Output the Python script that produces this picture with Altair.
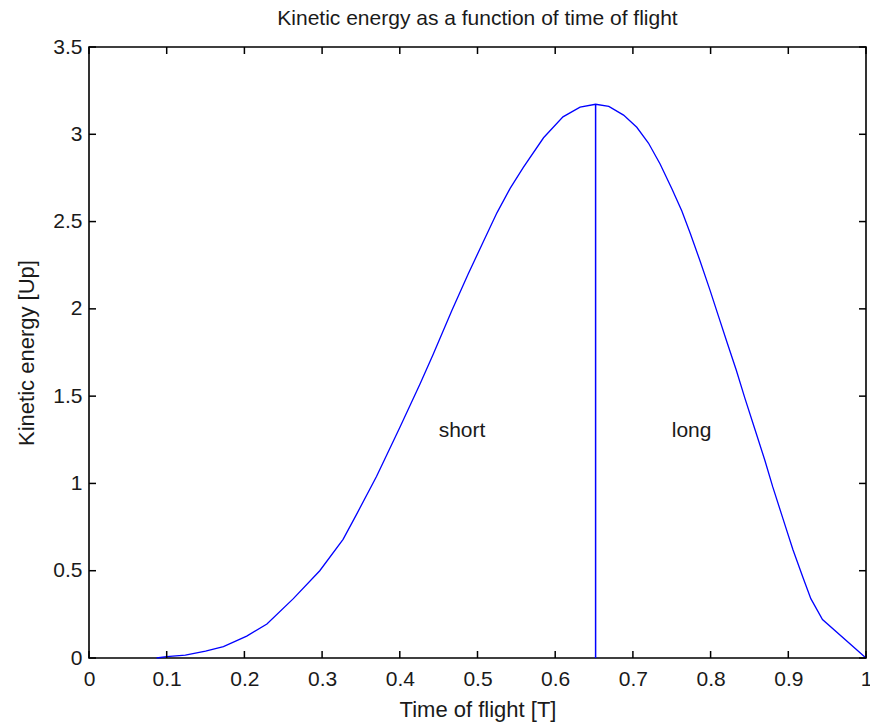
import altair as alt
import pandas as pd

# curve values
t_vals = [0.087, 0.10, 0.124, 0.15, 0.173, 0.203, 0.229, 0.263, 0.297, 0.327, 0.344, 0.370,
          0.400, 0.426, 0.443, 0.467, 0.488, 0.507, 0.525, 0.542, 0.559, 0.585, 0.610, 0.632,
          0.652, 0.669, 0.688, 0.705, 0.720, 0.735, 0.750, 0.763, 0.774, 0.786, 0.799, 0.810,
          0.821, 0.833, 0.844, 0.857, 0.870, 0.880, 0.893, 0.906, 0.919, 0.929, 0.944, 1.000]
ke_vals = [0.000, 0.008, 0.017, 0.040, 0.065, 0.125, 0.195, 0.340, 0.500, 0.680, 0.820, 1.040,
           1.320, 1.570, 1.740, 1.990, 2.200, 2.380, 2.550, 2.690, 2.810, 2.980, 3.100, 3.155,
           3.172, 3.160, 3.110, 3.040, 2.950, 2.830, 2.690, 2.560, 2.430, 2.280, 2.110, 1.960,
           1.810, 1.650, 1.490, 1.310, 1.130, 0.980, 0.800, 0.620, 0.460, 0.340, 0.220, 0.000]

split_t = [0.652]
split_top = [3.172]
split_bottom = [0.0]

label_text = ["short", "long"]
label_t = [0.45, 0.75]
label_ke = [1.30, 1.30]

x_ticks = [0, 0.1, 0.2, 0.3, 0.4, 0.5, 0.6, 0.7, 0.8, 0.9, 1]
y_ticks = [0, 0.5, 1, 1.5, 2, 2.5, 3, 3.5]

curve = pd.DataFrame({"t": t_vals, "ke": ke_vals})
split = pd.DataFrame({"t": split_t, "y0": split_bottom, "y1": split_top})
labels = pd.DataFrame({"t": label_t, "ke": label_ke, "txt": label_text})
xt = pd.DataFrame({"t": x_ticks})
yt = pd.DataFrame({"ke": y_ticks})

W, H = 777, 611
TICK = 7
FONT = "Liberation Sans"
TXT = "#1a1a1a"
AX = dict(labelFont=FONT, labelFontSize=21, labelColor=TXT,
          titleFont=FONT, titleFontSize=22, titleFontWeight="normal", titleColor=TXT,
          ticks=False, domain=False, grid=False, format="~g", labelFlush=False)

xs = alt.Scale(domain=[0, 1], nice=False, zero=False)
ys = alt.Scale(domain=[0, 3.5], nice=False, zero=False)

line = alt.Chart(curve).mark_line(color="#0000ff", strokeWidth=1.3).encode(
    x=alt.X("t:Q", scale=xs,
            axis=alt.Axis(orient="bottom", values=x_ticks, title="Time of flight [T]",
                          labelPadding=10, titlePadding=10, **AX)),
    y=alt.Y("ke:Q", scale=ys,
            axis=alt.Axis(orient="left", values=y_ticks, title="Kinetic energy [Up]",
                          labelPadding=7, titlePadding=14, **AX)),
)

rule = alt.Chart(split).mark_rule(color="#0000ff", strokeWidth=1.5).encode(
    x=alt.X("t:Q", scale=xs, axis=None),
    y=alt.Y("y0:Q", scale=ys, axis=None),
    y2="y1:Q",
)

text = alt.Chart(labels).mark_text(align="left", baseline="middle", font=FONT,
                                   fontSize=21, color=TXT).encode(
    x=alt.X("t:Q", scale=xs, axis=None),
    y=alt.Y("ke:Q", scale=ys, axis=None),
    text="txt:N",
)

tick_style = dict(color="black", strokeWidth=1.5)
tick_bottom = alt.Chart(xt).mark_rule(**tick_style).encode(
    x=alt.X("t:Q", scale=xs, axis=None), y=alt.value(H), y2=alt.value(H - TICK))
tick_top = alt.Chart(xt).mark_rule(**tick_style).encode(
    x=alt.X("t:Q", scale=xs, axis=None), y=alt.value(0), y2=alt.value(TICK))
tick_left = alt.Chart(yt).mark_rule(**tick_style).encode(
    y=alt.Y("ke:Q", scale=ys, axis=None), x=alt.value(0), x2=alt.value(TICK))
tick_right = alt.Chart(yt).mark_rule(**tick_style).encode(
    y=alt.Y("ke:Q", scale=ys, axis=None), x=alt.value(W), x2=alt.value(W - TICK))

chart = alt.layer(line, rule, text, tick_bottom, tick_top, tick_left, tick_right).resolve_axis(
    x="independent", y="independent"
).properties(
    width=W,
    height=H,
    background="white",
    title=alt.TitleParams("Kinetic energy as a function of time of flight",
                          font=FONT, fontSize=21, fontWeight="normal",
                          color=TXT, anchor="middle", offset=7),
    autosize=alt.AutoSizeParams(type="none"),
    padding={"left": 89, "top": 47, "right": 4, "bottom": 66},
).configure_view(
    stroke="#000000", strokeWidth=1.6, strokeOpacity=1
)

chart.save("out.html", embed_options={"renderer": "svg", "actions": False})
